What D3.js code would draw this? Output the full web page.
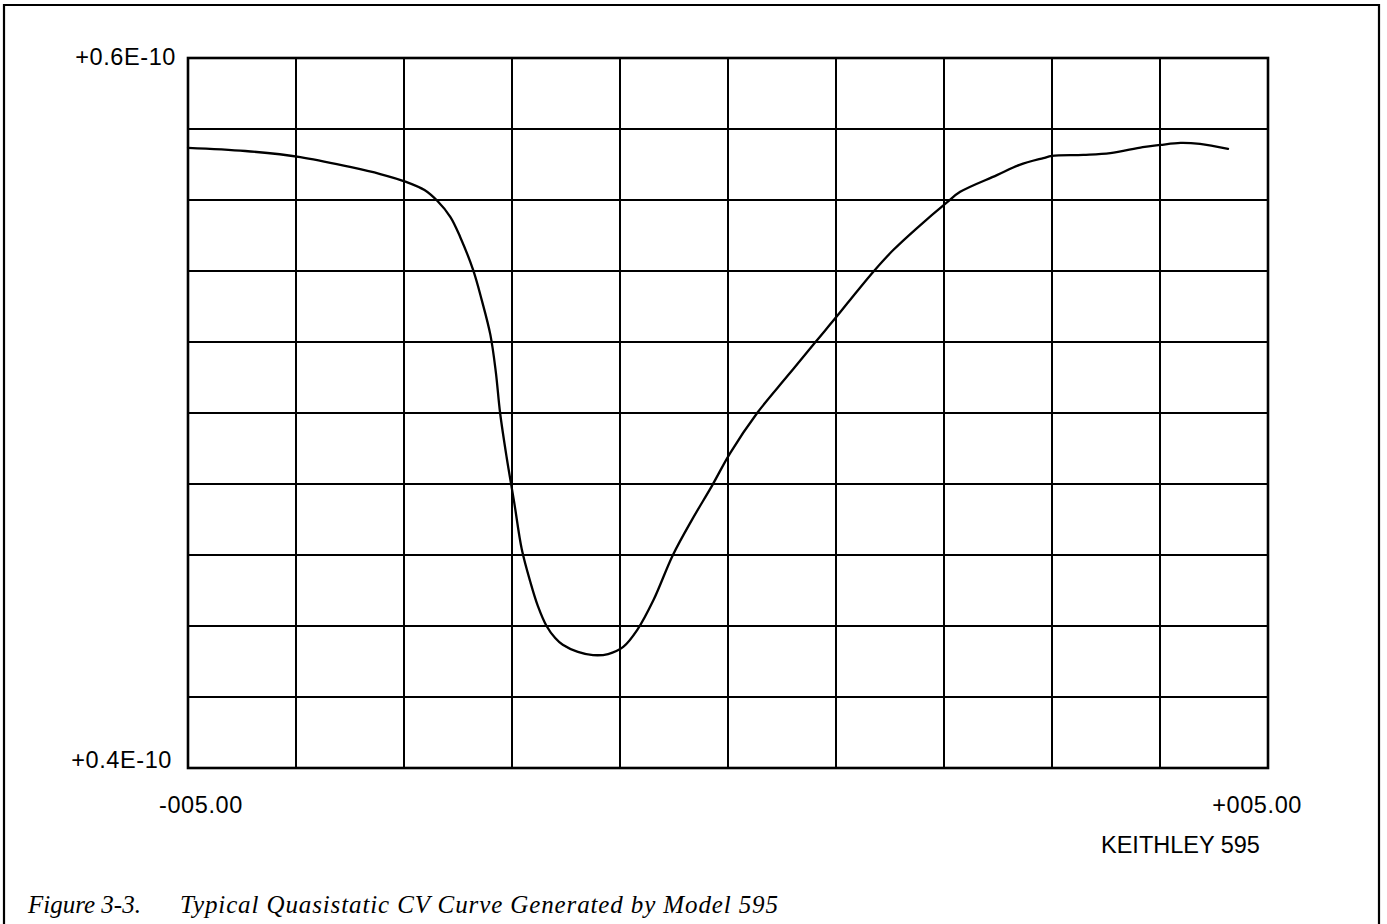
<!DOCTYPE html>
<html>
<head>
<meta charset="utf-8">
<script src="https://cdn.jsdelivr.net/npm/d3@7"></script>
<style>
  html, body { margin: 0; padding: 0; background: #fff; }
  svg { display: block; }
  .lbl { font-family: "Liberation Sans", Arial, Helvetica, sans-serif; font-size: 23.5px; fill: #000; }
  .cap { font-family: "Liberation Serif", "Times New Roman", serif; font-style: italic; font-size: 25px; fill: #000; }
</style>
</head>
<body>
<svg id="chart" width="1387" height="924"></svg>
<script>
// Quasistatic C-V sweep: bias voltage (V) vs. capacitance (pF)
const voltage = [
  -5.00, -4.47, -3.96, -3.50, -3.22, -2.98, -2.81, -2.69, -2.57, -2.48,
  -2.36, -2.28, -2.20, -2.15, -2.11, -2.05, -1.98, -1.91, -1.83, -1.76,
  -1.68, -1.60, -1.53, -1.39, -1.25, -1.11, -0.97, -0.84, -0.69, -0.51,
  -0.33, -0.15, 0.02, 0.27, 0.55, 0.81, 1.01, 1.19, 1.36, 1.53,
  1.75, 2.03, 2.15, 2.49, 2.70, 2.92, 3.00, 3.29, 3.54, 3.84,
  4.00, 4.19, 4.37, 4.63
];
const capacitance = [
  57.47, 57.38, 57.21, 56.93, 56.73, 56.51, 56.28, 55.97, 55.52, 54.96,
  54.03, 53.18, 52.20, 51.16, 50.00, 48.76, 47.49, 46.17, 45.24, 44.56,
  44.00, 43.66, 43.47, 43.27, 43.18, 43.21, 43.41, 43.89, 44.73, 46.00,
  47.01, 47.94, 48.87, 50.00, 51.04, 52.00, 52.73, 53.41, 54.03, 54.59,
  55.21, 55.94, 56.23, 56.70, 56.99, 57.18, 57.24, 57.27, 57.32, 57.49,
  57.55, 57.61, 57.58, 57.44
];

// Axis end labels as printed by the instrument
const xEndLabels = ["-005.00", "+005.00"];
const yEndLabels = ["+0.4E-10", "+0.6E-10"];
const instrumentLabel = "KEITHLEY 595";
const figureNumber = "Figure 3-3.";
const figureTitle = "Typical Quasistatic CV Curve Generated by Model 595";

const svg = d3.select("#chart");

const x = d3.scaleLinear().domain([-5, 5]).range([188, 1268]);
const y = d3.scaleLinear().domain([40, 60]).range([768, 58]);

// Outer frame (open at the bottom)
svg.append("path")
  .attr("d", "M4,924 L4,5 L1379,5 L1379,924")
  .attr("fill", "none").attr("stroke", "#000").attr("stroke-width", 2.2);

// Grid: 10 divisions each way
const g = svg.append("g");
g.selectAll("line.vx").data(d3.range(-5, 5.001, 1)).join("line")
  .attr("x1", d => x(d)).attr("x2", d => x(d))
  .attr("y1", y(40)).attr("y2", y(60))
  .attr("stroke", "#000").attr("stroke-width", 2);
g.selectAll("line.hy").data(d3.range(40, 60.001, 2)).join("line")
  .attr("x1", x(-5)).attr("x2", x(5))
  .attr("y1", d => y(d)).attr("y2", d => y(d))
  .attr("stroke", "#000").attr("stroke-width", 2);

// Plot border
svg.append("rect")
  .attr("x", x(-5)).attr("y", y(60))
  .attr("width", x(5) - x(-5)).attr("height", y(40) - y(60))
  .attr("fill", "none").attr("stroke", "#000").attr("stroke-width", 2.6);

// C-V curve
const pts = voltage.map((v, i) => [v, capacitance[i]]);
const line = d3.line()
  .x(d => x(d[0])).y(d => y(d[1]))
  .curve(d3.curveCatmullRom.alpha(0.5));
svg.append("path")
  .attr("d", line(pts))
  .attr("fill", "none").attr("stroke", "#000").attr("stroke-width", 2.3)
  .attr("stroke-linejoin", "round").attr("stroke-linecap", "round");

// Y end labels
svg.append("text").attr("class", "lbl")
  .attr("x", x(-5) - 12).attr("y", y(60) + 7)
  .attr("text-anchor", "end").attr("letter-spacing", 0.6)
  .text(yEndLabels[1]);
svg.append("text").attr("class", "lbl")
  .attr("x", x(-5) - 16).attr("y", y(40))
  .attr("text-anchor", "end").attr("letter-spacing", 0.6)
  .text(yEndLabels[0]);

// X end labels
svg.append("text").attr("class", "lbl")
  .attr("x", x(-5) - 29).attr("y", 813)
  .attr("letter-spacing", 0.6)
  .text(xEndLabels[0]);
svg.append("text").attr("class", "lbl")
  .attr("x", x(5) + 34).attr("y", 813)
  .attr("text-anchor", "end").attr("letter-spacing", 0.6)
  .text(xEndLabels[1]);

// Instrument name
svg.append("text").attr("class", "lbl")
  .attr("x", 1101).attr("y", 853)
  .text(instrumentLabel);

// Figure caption
svg.append("text").attr("class", "cap")
  .attr("x", 28).attr("y", 913)
  .text(figureNumber);
svg.append("text").attr("class", "cap")
  .attr("x", 180).attr("y", 913)
  .attr("textLength", 598).attr("lengthAdjust", "spacing")
  .text(figureTitle);
</script>
</body>
</html>
